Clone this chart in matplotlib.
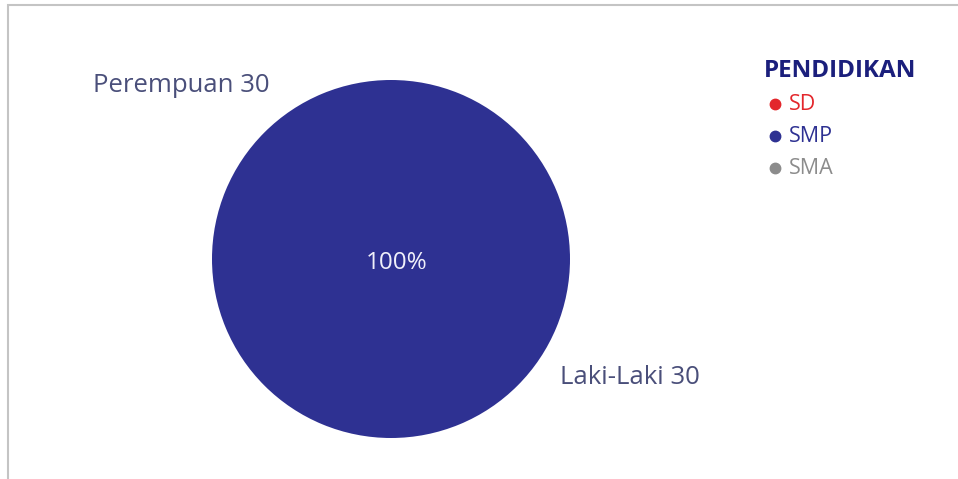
import matplotlib.pyplot as plt
from matplotlib.patches import Rectangle
from matplotlib.lines import Line2D

plt.rcParams['font.family'] = ['Open Sans', 'DejaVu Sans']

categories = ['SD', 'SMP', 'SMA']
values = [0, 30, 0]
colors = ['#e3262b', '#2e3192', '#8c8c8c']
gender_labels = ['Perempuan 30', 'Laki-Laki 30']
legend_title = 'PENDIDIKAN'

W, H = 958, 479
fig = plt.figure(figsize=(W / 100, H / 100), dpi=100)
ax = fig.add_axes([0, 0, 1, 1])

# screenshot frame (top and left edge)
fig.patches.append(Rectangle((8 / W, -0.1), 1.2, (H - 5) / H + 0.1, transform=fig.transFigure,
                             fill=False, edgecolor='#c4c4c4', linewidth=1.5))

wedges, texts, autotexts = ax.pie(
    values, colors=colors, center=(391, 259), radius=179, startangle=90,
    counterclock=False, frame=True,
    autopct=lambda p: '%d%%' % round(p) if p > 0 else '', pctdistance=0.0,
    textprops=dict(color='#f0f0fa', fontsize=17.5),
    wedgeprops=dict(linewidth=0))
ax.set_xlim(0, W)
ax.set_ylim(H, 0)
ax.set_aspect('equal')
ax.axis('off')
for t in autotexts:
    t.set_position((397, 263))

ax.text(93, 85, gender_labels[0], fontsize=18.5, color='#4a4f7a', ha='left', va='center')
ax.text(560, 377, gender_labels[1], fontsize=18.5, color='#4a4f7a', ha='left', va='center')

# legend
ax.text(764, 71, legend_title, fontsize=17.5, fontweight='bold', color='#1b1f7c', ha='left', va='center')
for i, (cat, col) in enumerate(zip(categories, colors)):
    y = 104 + i * 32
    ax.add_line(Line2D([775], [y], marker='o', markersize=7.5, color=col, linestyle='none'))
    ax.text(789, y, cat, fontsize=15.5, color=col, ha='left', va='center')

fig.savefig('out.png', dpi=100, facecolor='white')
